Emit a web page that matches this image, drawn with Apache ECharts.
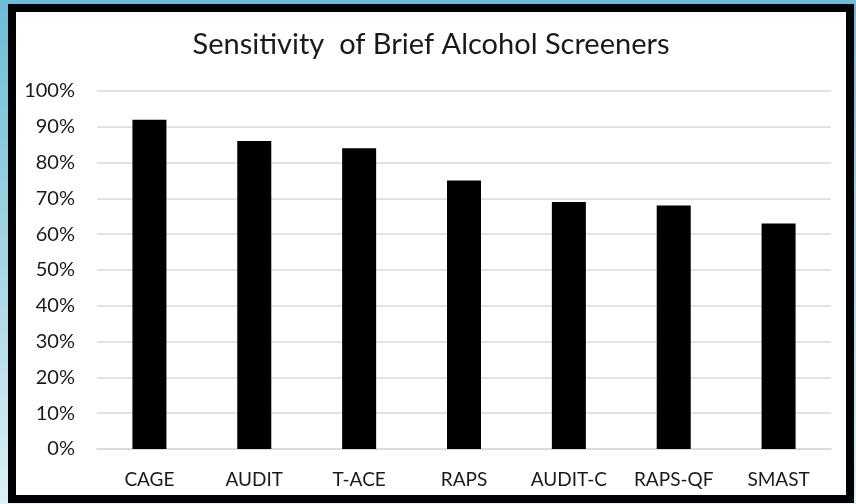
<!DOCTYPE html>
<html>
<head>
<meta charset="utf-8">
<script src="https://cdn.jsdelivr.net/npm/echarts@6/dist/echarts.min.js"></script>
<style>
  html, body { margin: 0; padding: 0; }
  body { width: 856px; height: 504px; overflow: hidden; position: relative;
         background: linear-gradient(to bottom, #6dbcd4 0%, #a8d7e6 55%, #dcf0f6 100%); }
  #frame { position: absolute; left: 8px; top: 4px; width: 846px; height: 499px;
           box-sizing: border-box; border: 8px solid #000; background: #fff; }
  #chart { width: 830px; height: 483px; }
</style>
</head>
<body>
<div id="frame"><div id="chart"></div></div>
<script>
const titleText = 'Sensitivity  of Brief Alcohol Screeners';
const categories = ['CAGE', 'AUDIT', 'T-ACE', 'RAPS', 'AUDIT-C', 'RAPS-QF', 'SMAST'];
const sensitivity = [92, 86, 84, 75, 69, 68, 63];
const yMin = 0, yMax = 100, yStep = 10;

const chart = echarts.init(document.getElementById('chart'), null, { renderer: 'canvas' });
chart.setOption({
  animation: false,
  backgroundColor: '#fff',
  title: {
    text: titleText,
    left: 'center',
    top: 13,
    textStyle: { fontFamily: 'Lato', fontWeight: 'normal', fontSize: 29, color: '#1a1a1a' }
  },
  grid: { left: 81, right: 15, top: 79, bottom: 46 },
  xAxis: {
    type: 'category',
    data: categories,
    axisLine: { lineStyle: { color: '#d9d9d9', width: 1.5 } },
    axisTick: { show: false },
    axisLabel: { fontFamily: 'Lato', fontSize: 19, color: '#1a1a1a', margin: 21 }
  },
  yAxis: {
    type: 'value',
    min: yMin, max: yMax, interval: yStep,
    axisLine: { show: false },
    axisTick: { show: false },
    splitLine: { lineStyle: { color: '#d9d9d9', width: 1.5 } },
    axisLabel: { fontFamily: 'Lato', fontSize: 20, color: '#1a1a1a', margin: 22, formatter: '{value}%' }
  },
  series: [{
    type: 'bar',
    data: sensitivity,
    barWidth: 34,
    itemStyle: { color: '#000' }
  }]
});
</script>
</body>
</html>
